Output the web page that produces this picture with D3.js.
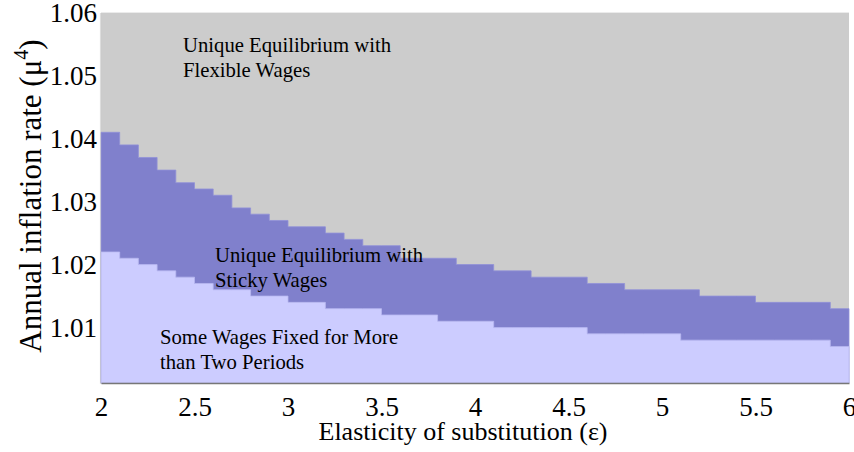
<!DOCTYPE html>
<html>
<head>
<meta charset="utf-8">
<script src="https://cdn.jsdelivr.net/npm/d3@7"></script>
<style>
  body { margin: 0; background: #fff; }
  text { font-family: "Liberation Serif", "Times New Roman", serif; fill: #000; }
</style>
</head>
<body>
<svg id="chart" width="854" height="452"></svg>
<script>
// cell edges along the elasticity axis
let epsEdges = [2.0, 2.1, 2.2, 2.3, 2.4, 2.5, 2.6, 2.7, 2.8, 2.9, 3.0, 3.1, 3.2, 3.3, 3.4, 3.5, 3.6, 3.7, 3.8, 3.9,
  4.0, 4.1, 4.2, 4.3, 4.4, 4.5, 4.6, 4.7, 4.8, 4.9, 5.0, 5.1, 5.2, 5.3, 5.4, 5.5, 5.6, 5.7, 5.8, 5.9, 6.0]

// upper edge of the sticky-wage region (one value per cell)
let stickyTop = [1.041, 1.039, 1.037, 1.035, 1.033, 1.032, 1.031, 1.029, 1.028, 1.027,
  1.026, 1.026, 1.025, 1.024, 1.023, 1.023, 1.021, 1.021, 1.021, 1.020,
  1.020, 1.019, 1.019, 1.018, 1.018, 1.018, 1.017, 1.017, 1.016, 1.016,
  1.016, 1.016, 1.015, 1.015, 1.015, 1.014, 1.014, 1.014, 1.014, 1.013]

// upper edge of the "fixed for more than two periods" region
let fixedTop = [1.022, 1.021, 1.020, 1.019, 1.018, 1.017, 1.016, 1.016, 1.015, 1.015,
  1.014, 1.014, 1.013, 1.013, 1.013, 1.012, 1.012, 1.012, 1.011, 1.011,
  1.011, 1.010, 1.010, 1.010, 1.010, 1.010, 1.009, 1.009, 1.009, 1.009,
  1.009, 1.008, 1.008, 1.008, 1.008, 1.008, 1.008, 1.008, 1.008, 1.007]

let xTicks = [2, 2.5, 3, 3.5, 4, 4.5, 5, 5.5, 6]
let yTicks = [1.01, 1.02, 1.03, 1.04, 1.05, 1.06]

let serif = '"Liberation Serif", "Times New Roman", serif'
let svg = d3.select('#chart')

let x = d3.scaleLinear().domain([2, 6]).range([101, 849])
let y = d3.scaleLinear().domain([1.0012, 1.06]).range([383, 12.6])

// step data: repeat last value at the right edge
let toSteps = (vals) => epsEdges.map((e, i) => ({ e: e, v: vals[Math.min(i, vals.length - 1)] }))

let area = d3.area()
  .curve(d3.curveStepAfter)
  .x(d => x(d.e))
  .y0(y.range()[0])
  .y1(d => y(d.v))

// background: flexible wages region
svg.append('rect')
  .attr('x', x(2))
  .attr('y', y(1.06))
  .attr('width', x(6) - x(2))
  .attr('height', y.range()[0] - y(1.06))
  .attr('fill', '#cccccc')

svg.append('path')
  .datum(toSteps(stickyTop))
  .attr('d', area)
  .attr('fill', '#8080cc')
  .attr('stroke', '#9090d8')
  .attr('stroke-width', 0.8)

svg.append('path')
  .datum(toSteps(fixedTop))
  .attr('d', area)
  .attr('fill', '#ccccff')
  .attr('stroke', '#b8b8f0')
  .attr('stroke-width', 0.8)

// axes
let xAxis = svg.append('g')
  .attr('transform', 'translate(0,383)')
  .call(d3.axisBottom(x).tickValues(xTicks).tickSize(0).tickPadding(14).tickFormat(d3.format('')))
xAxis.attr('font-family', null).attr('font-size', null)
xAxis.select('.domain').attr('stroke', '#777').attr('stroke-width', 1.5)
xAxis.selectAll('text').style('font-size', '27px').style('font-family', serif)

let yAxis = svg.append('g')
  .attr('transform', 'translate(100,0)')
  .call(d3.axisLeft(y).tickValues(yTicks).tickSize(0).tickPadding(3).tickFormat(d3.format('.2f')))
yAxis.attr('font-family', null).attr('font-size', null)
yAxis.select('.domain').attr('stroke', '#bbb').attr('stroke-width', 1.2).attr('stroke-dasharray', '1,1')
yAxis.selectAll('text').style('font-size', '27px').style('font-family', serif)

// axis titles
svg.append('text')
  .attr('x', 463)
  .attr('y', 440)
  .attr('text-anchor', 'middle')
  .style('font-family', serif)
  .style('font-size', '26px')
  .text('Elasticity of substitution (ε)')

let yLabel = svg.append('text')
  .attr('transform', 'translate(41,196) rotate(-90)')
  .attr('text-anchor', 'middle')
  .style('font-family', serif)
  .style('font-size', '31px')
yLabel.append('tspan').text('Annual inflation rate (μ')
yLabel.append('tspan').attr('dy', -13).style('font-size', '20px').text('4')
yLabel.append('tspan').attr('dy', 13).text(')')

// region labels
let notes = [
  { x: 183, y: 52, lines: ['Unique Equilibrium with', 'Flexible Wages'] },
  { x: 215, y: 262, lines: ['Unique Equilibrium with', 'Sticky Wages'] },
  { x: 160, y: 344, lines: ['Some Wages Fixed for More', 'than Two Periods'] }
]
notes.forEach(n => {
  let t = svg.append('text').attr('x', n.x).attr('y', n.y)
    .style('font-family', serif)
    .style('font-size', '20.7px')
  n.lines.forEach((l, i) => {
    t.append('tspan').attr('x', n.x).attr('dy', i === 0 ? 0 : 25).text(l)
  })
})
</script>
</body>
</html>
